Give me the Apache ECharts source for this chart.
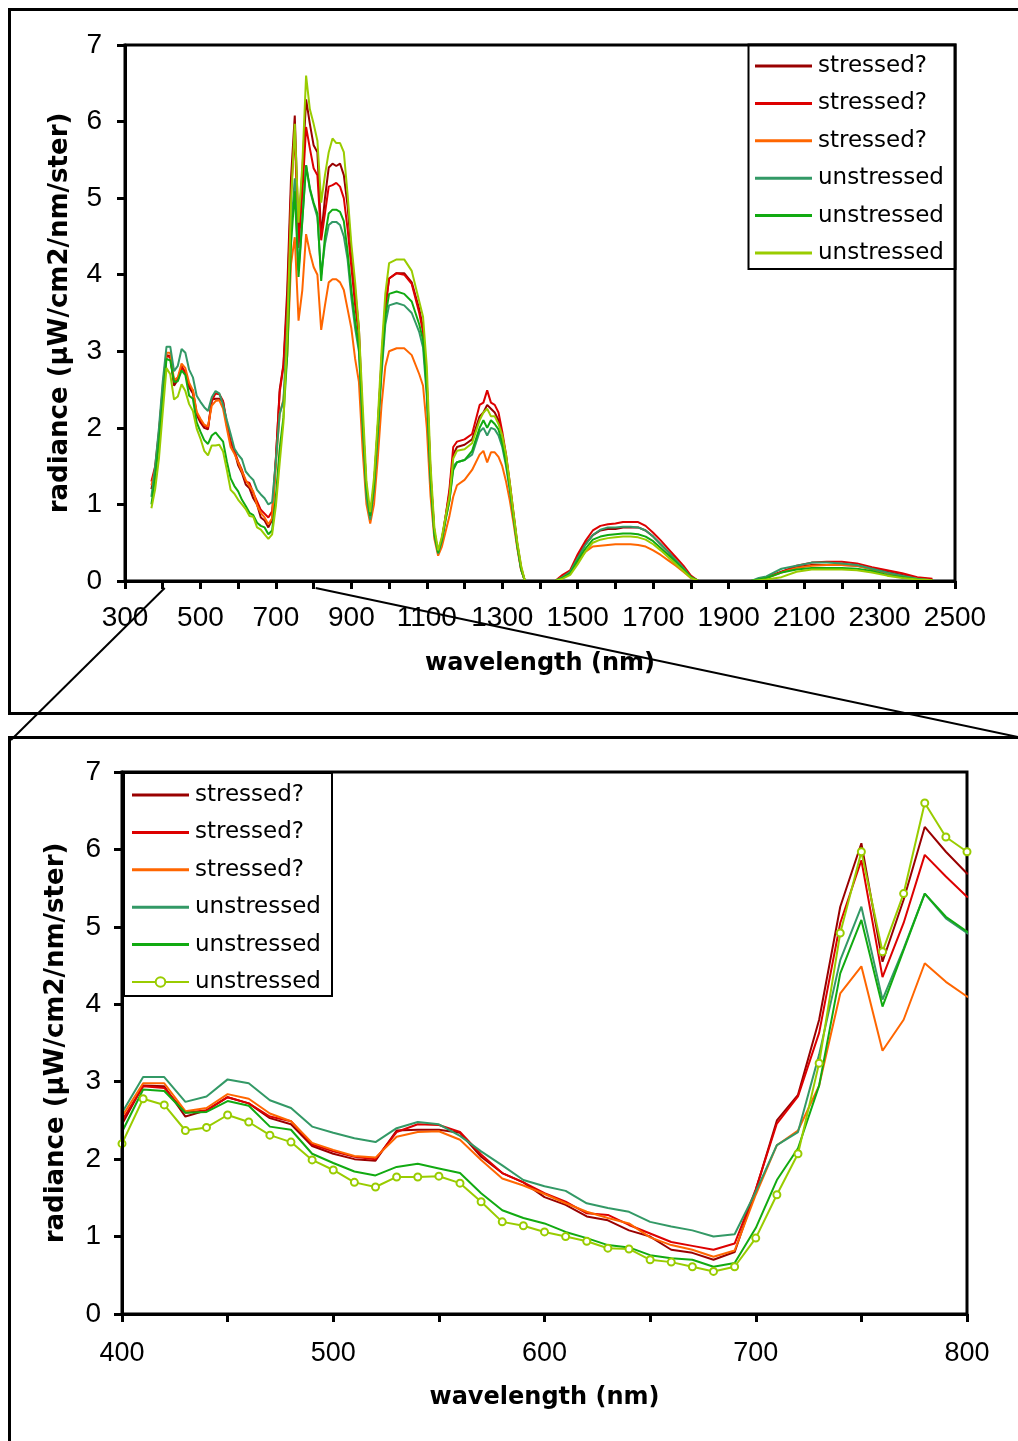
<!DOCTYPE html>
<html><head><meta charset="utf-8">
<script src="https://cdn.jsdelivr.net/npm/echarts@6.0.0/dist/echarts.min.js"></script>
<style>html,body{margin:0;padding:0;background:#fff}#c{width:1018px;height:1441px}</style>
</head><body><div id="c"></div>
<script>
// wavelength (nm) of each sample
const wavelengths = [
 370,380,390,400,410,420,430,440,450,460,
 470,480,490,500,510,520,530,540,550,560,
 570,580,590,600,610,620,630,640,650,660,
 670,680,690,700,710,720,730,740,750,760,
 770,780,790,800,810,820,830,840,850,860,
 870,880,890,900,910,920,930,940,950,960,
 970,980,990,1000,
 1020,1040,1060,1080,1090,1100,1110,1120,1130,
 1140,1150,1160,1170,1180,1200,1220,
 1240,1250,1260,1270,1280,1290,1300,
 1310,1320,1330,1340,1350,1360,
 1440,1460,1480,1500,1520,1540,1560,1580,1600,1620,
 1640,1660,1680,1700,1720,1740,1760,1780,1800,1820,
 1960,1980,2000,2040,2080,2120,2160,2200,2240,2280,2320,2360,2400,2440
];
const stressed1 = [
 1.2,1.45,1.9,2.45,2.95,2.94,2.55,2.63,2.8,2.72,
 2.53,2.45,2.17,2.07,2.0,1.98,2.37,2.38,2.38,2.34,
 2.03,1.82,1.7,1.51,1.41,1.26,1.21,1.08,1.0,0.83,
 0.79,0.7,0.8,1.6,2.5,2.83,3.8,5.26,6.08,4.55,
 5.35,6.29,5.97,5.69,5.6,4.5,5.0,5.4,5.45,5.42,
 5.45,5.3,4.9,4.3,3.8,3.3,2.1,1.2,0.85,1.25,
 2.0,2.9,3.6,3.95,
 4.02,4.02,3.9,3.55,3.3,2.6,1.4,0.65,0.37,
 0.55,0.85,1.15,1.65,1.75,1.78,1.85,
 2.15,2.2,2.3,2.25,2.2,2.1,1.9,
 1.62,1.25,0.85,0.45,0.15,0,
 0,0.05,0.12,0.32,0.48,0.6,0.66,0.68,0.68,0.7,
 0.7,0.7,0.66,0.58,0.48,0.38,0.27,0.16,0.05,0,
 0,0.02,0.04,0.12,0.18,0.21,0.21,0.21,0.2,0.16,0.12,0.08,0.04,0.02
];
const stressed2 = [
 1.3,1.5,1.95,2.5,2.94,2.92,2.6,2.63,2.8,2.72,
 2.55,2.49,2.19,2.1,2.03,2.0,2.35,2.45,2.44,2.35,
 2.06,1.82,1.7,1.56,1.45,1.3,1.28,1.15,1.04,0.93,
 0.88,0.83,0.91,1.61,2.46,2.81,3.63,5.05,5.86,4.35,
 5.05,5.93,5.65,5.39,5.3,4.45,4.8,5.15,5.17,5.2,
 5.15,5.0,4.6,4.1,3.6,3.2,2.0,1.15,0.82,1.2,
 1.95,2.85,3.55,3.95,
 4.02,4.0,3.88,3.5,3.25,2.55,1.35,0.62,0.36,
 0.52,0.85,1.2,1.75,1.82,1.85,1.92,
 2.3,2.33,2.49,2.33,2.3,2.2,1.95,
 1.65,1.28,0.88,0.48,0.18,0,
 0,0.08,0.14,0.35,0.52,0.66,0.72,0.74,0.75,0.77,
 0.77,0.77,0.72,0.63,0.53,0.42,0.31,0.2,0.07,0,
 0,0.02,0.05,0.12,0.2,0.24,0.25,0.25,0.23,0.18,0.14,0.1,0.05,0.03
];
const stressed3 = [
 1.25,1.45,1.9,2.55,2.98,2.98,2.62,2.66,2.84,2.78,
 2.59,2.49,2.21,2.12,2.04,2.02,2.29,2.35,2.36,2.25,
 1.99,1.75,1.66,1.55,1.43,1.32,1.24,1.17,0.99,0.89,
 0.83,0.74,0.82,1.54,2.18,2.37,2.95,4.14,4.49,3.4,
 3.8,4.53,4.29,4.1,4.0,3.28,3.6,3.9,3.94,3.94,
 3.9,3.8,3.55,3.3,2.9,2.6,1.7,1.0,0.75,1.0,
 1.6,2.3,2.8,3.0,
 3.04,3.04,2.95,2.7,2.55,2.0,1.1,0.55,0.33,
 0.45,0.65,0.85,1.1,1.25,1.32,1.45,
 1.65,1.7,1.55,1.68,1.68,1.62,1.5,
 1.3,1.05,0.75,0.42,0.14,0,
 0,0.05,0.1,0.25,0.38,0.45,0.46,0.47,0.48,0.48,
 0.48,0.47,0.45,0.4,0.34,0.27,0.2,0.12,0.04,0,
 0,0.02,0.04,0.11,0.17,0.2,0.21,0.21,0.2,0.15,0.1,0.06,0.03,0.01
];
const unstressed1 = [
 1.1,1.5,2.0,2.6,3.06,3.06,2.74,2.81,3.03,2.98,
 2.76,2.66,2.42,2.34,2.27,2.22,2.4,2.48,2.45,2.3,
 2.1,1.92,1.73,1.65,1.59,1.43,1.37,1.32,1.19,1.13,
 1.08,1.0,1.03,1.58,2.18,2.35,3.35,4.57,5.26,4.06,
 4.72,5.43,5.11,4.92,4.75,4.0,4.4,4.65,4.69,4.69,
 4.65,4.5,4.2,3.7,3.3,3.0,2.0,1.1,0.8,1.2,
 1.9,2.7,3.35,3.6,
 3.63,3.6,3.5,3.25,3.05,2.4,1.3,0.6,0.36,
 0.52,0.8,1.05,1.5,1.55,1.58,1.65,
 1.95,2.0,1.9,2.0,1.98,1.9,1.75,
 1.5,1.18,0.82,0.45,0.15,0,
 0,0.05,0.12,0.3,0.47,0.6,0.67,0.7,0.7,0.71,
 0.71,0.7,0.66,0.58,0.48,0.38,0.27,0.17,0.05,0,
 0,0.04,0.06,0.16,0.2,0.24,0.24,0.23,0.21,0.16,0.11,0.07,0.03,0.01
];
const unstressed2 = [
 1.0,1.35,1.8,2.35,2.9,2.88,2.6,2.61,2.75,2.69,
 2.42,2.38,2.07,1.95,1.84,1.79,1.9,1.94,1.88,1.82,
 1.56,1.34,1.24,1.17,1.06,0.98,0.89,0.86,0.76,0.72,
 0.7,0.61,0.66,1.11,1.73,2.14,2.95,4.4,5.09,3.97,
 4.7,5.43,5.13,4.94,4.8,3.92,4.5,4.8,4.85,4.85,
 4.82,4.7,4.3,3.8,3.4,3.05,2.1,1.2,0.85,1.25,
 2.0,2.8,3.45,3.75,
 3.78,3.75,3.65,3.35,3.15,2.5,1.35,0.62,0.37,
 0.55,0.82,1.05,1.45,1.55,1.58,1.7,
 2.0,2.1,2.0,2.1,2.05,1.98,1.8,
 1.55,1.22,0.84,0.47,0.16,0,
 0,0.04,0.1,0.27,0.42,0.54,0.58,0.6,0.61,0.62,
 0.62,0.61,0.58,0.52,0.43,0.34,0.25,0.15,0.05,0,
 0,0.02,0.04,0.11,0.15,0.17,0.17,0.17,0.16,0.13,0.08,0.05,0.02,0.01
];
const unstressed3 = [
 0.95,1.2,1.6,2.2,2.78,2.7,2.37,2.41,2.57,2.48,
 2.31,2.22,1.99,1.86,1.7,1.64,1.77,1.77,1.78,1.69,
 1.45,1.19,1.14,1.06,1.0,0.94,0.85,0.84,0.7,0.67,
 0.61,0.55,0.61,0.98,1.54,2.07,3.24,4.92,5.97,4.68,
 5.43,6.6,6.16,5.97,5.75,4.94,5.3,5.6,5.78,5.72,
 5.72,5.6,5.05,4.4,3.9,3.3,2.3,1.3,0.9,1.35,
 2.1,3.0,3.75,4.15,
 4.2,4.2,4.05,3.65,3.45,2.8,1.5,0.7,0.4,
 0.58,0.85,1.1,1.6,1.7,1.72,1.8,
 2.1,2.2,2.25,2.15,2.15,2.05,1.9,
 1.65,1.28,0.88,0.5,0.2,0,
 0,0.03,0.08,0.22,0.38,0.5,0.54,0.56,0.57,0.58,
 0.58,0.57,0.54,0.48,0.4,0.31,0.22,0.13,0.04,0,
 0,0.01,0.02,0.05,0.12,0.15,0.15,0.15,0.14,0.11,0.07,0.04,0.02,0.01
];
const seriesLabels = ['stressed?','stressed?','stressed?','unstressed','unstressed','unstressed'];
const seriesValues = [stressed1, stressed2, stressed3, unstressed1, unstressed2, unstressed3];
const colors = ['#990000','#dd0000','#ff6600','#339966','#11aa11','#99cc00'];
const topTicks = {min:300, max:2500, step:100, labelStep:200};
const zoomTicks = {min:400, max:800, step:50, labelStep:100};
const yTicks = {min:0, max:7, step:1};
const xTitle = 'wavelength (nm)';
const yTitle = 'radiance (µW/cm2/nm/ster)';

const FONT = "'Liberation Sans', 'DejaVu Sans', sans-serif";
const TFONT = "'DejaVu Sans', sans-serif";
// plain line legend icon (bar of 3px centred in a 57x12 box)
const LINE_ICON = 'path://M0,0L0,0M0,4.5L57,4.5L57,7.5L0,7.5ZM57,12L57,12';

const chart = echarts.init(document.getElementById('c'), null, {renderer:'canvas', width:1018, height:1441});

function xAxisCfg(g, t, margin, nameGap, fs){
  return {
    gridIndex:g, type:'value', min:t.min, max:t.max, interval:t.step, z:10,
    axisLine:{show:true, onZero:false, lineStyle:{color:'#000', width:3}},
    axisTick:{show:true, length:8, lineStyle:{color:'#000', width:3}},
    splitLine:{show:false},
    axisLabel:{margin:margin, fontSize:fs, color:'#000', fontFamily:FONT,
      formatter: v => ((v - t.min) % t.labelStep === 0 ? String(v) : '')},
    name:xTitle, nameLocation:'middle', nameGap:nameGap,
    nameTextStyle:{fontFamily:TFONT, fontWeight:'bold', fontSize:24, color:'#000'}
  };
}
function yAxisCfg(g, margin, nameGap){
  return {
    gridIndex:g, type:'value', min:yTicks.min, max:yTicks.max, interval:yTicks.step, z:10,
    axisLine:{show:true, lineStyle:{color:'#000', width:3}},
    axisTick:{show:true, length:8, lineStyle:{color:'#000', width:3}},
    splitLine:{show:false},
    axisLabel:{margin:margin, fontSize:28, color:'#000', fontFamily:FONT},
    name:yTitle, nameLocation:'middle', nameRotate:90, nameGap:nameGap,
    nameTextStyle:{fontFamily:TFONT, fontWeight:'bold', fontSize:26, color:'#000'}
  };
}

const series = [];
[0,1].forEach(g => {
  seriesValues.forEach((vals, i) => {
    const marker = (g === 1 && i === 5);
    series.push({
      name:(g ? 'B' : 'A') + i, type:'line', xAxisIndex:g, yAxisIndex:g,
      data: wavelengths.map((w, k) => [w, vals[k]]),
      symbol: marker ? 'emptyCircle' : 'none', symbolSize:7, showSymbol:marker,
      lineStyle:{color:colors[i], width:2},
      itemStyle:{color:colors[i], borderWidth:2},
      clip:true, animation:false, z:2
    });
  });
});

function legendCfg(prefix, left, top){
  return {
    show:true, orient:'vertical', left:left, top:top, padding:0,
    itemWidth:57, itemHeight:12, itemGap:13.4,
    data: seriesValues.map((_, i) => {
      const name = prefix + i;
      return (prefix === 'B' && i === 5) ? {name:name} : {name:name, icon:LINE_ICON};
    }),
    formatter: n => seriesLabels[+n.slice(1)],
    textStyle:{fontFamily:TFONT, fontSize:23, color:'#000', lineHeight:24, padding:[0,0,0,1]},
    selectedMode:false
  };
}

const option = {
  backgroundColor:'#fff',
  animation:false,
  grid:[
    {left:125, top:45, width:830, height:536, show:true, borderColor:'#000', borderWidth:3, z:0},
    {left:122, top:772, width:845, height:542, show:true, borderColor:'#000', borderWidth:3, z:0}
  ],
  xAxis:[ xAxisCfg(0, topTicks, 23, 71, 28), xAxisCfg(1, zoomTicks, 26, 72, 27) ],
  yAxis:[ yAxisCfg(0, 23, 52), yAxisCfg(1, 21, 53) ],
  legend:[ legendCfg('A', 755, 54), legendCfg('B', 131, 783) ],
  series:series,
  graphic:[
    {type:'rect', z:20, shape:{x:9.5, y:9.5, width:1030, height:704}, style:{fill:null, stroke:'#000', lineWidth:3}},
    {type:'rect', z:20, shape:{x:9.5, y:737.5, width:1030, height:720}, style:{fill:null, stroke:'#000', lineWidth:3}},
    {type:'rect', z:20, shape:{x:748.5, y:44.5, width:207, height:224.5}, style:{fill:null, stroke:'#000', lineWidth:2}},
    {type:'rect', z:20, shape:{x:124, y:773, width:208, height:223}, style:{fill:null, stroke:'#000', lineWidth:2}}
  ]
};
chart.setOption(option);

// zoom connector lines from the 400 and 800 nm ticks of the top axis to the lower panel
const p1 = chart.convertToPixel({xAxisIndex:0, yAxisIndex:0}, [zoomTicks.min, 0]);
const p2 = chart.convertToPixel({xAxisIndex:0, yAxisIndex:0}, [zoomTicks.max, 0]);
const g = option.graphic.slice();
g.push({type:'line', z:20, shape:{x1:p1[0]+2, y1:p1[1]+7, x2:11, y2:740}, style:{stroke:'#000', lineWidth:2}});
g.push({type:'line', z:20, shape:{x1:p2[0]+2, y1:p2[1]+7, x2:1018, y2:737}, style:{stroke:'#000', lineWidth:2}});
chart.setOption({graphic:g});
</script>
</body></html>
